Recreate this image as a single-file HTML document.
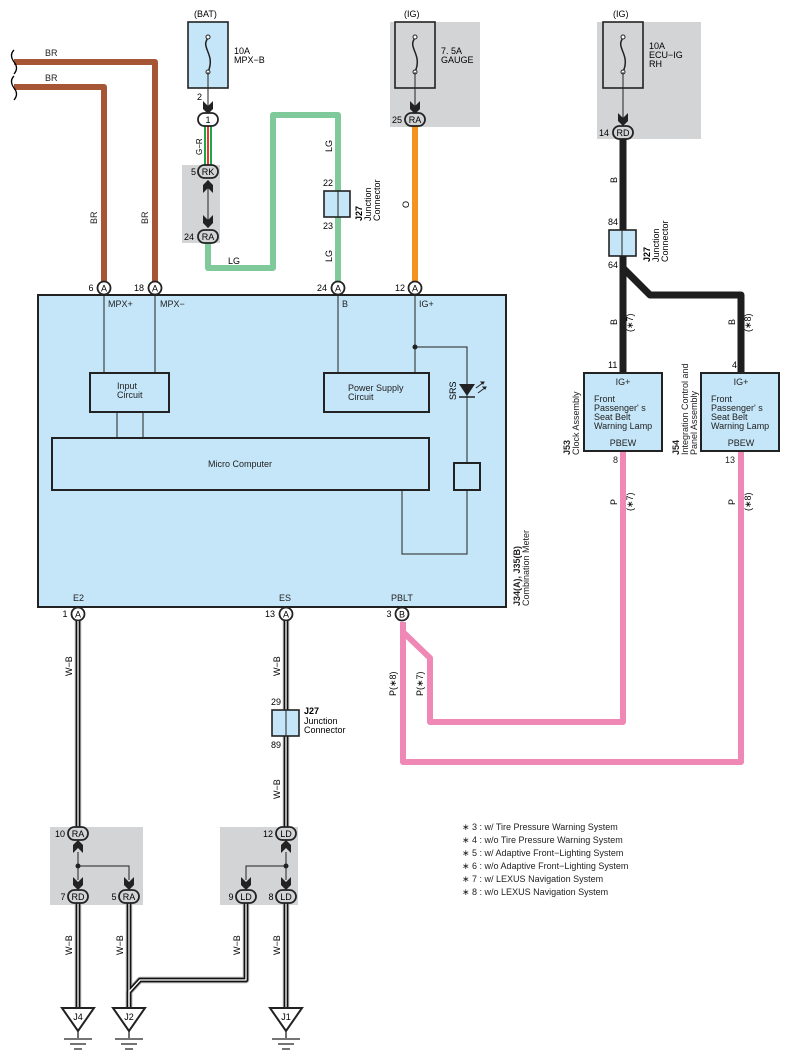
<!DOCTYPE html>
<html><head><meta charset="utf-8"><style>
html,body{margin:0;padding:0;background:#fff}
svg{display:block;font-family:"Liberation Sans",sans-serif}
</style></head><body>
<svg width="790" height="1062" viewBox="0 0 790 1062" xmlns="http://www.w3.org/2000/svg">
<defs>
<g id="ad"><path d="M-5,-13 L0,-8 L5,-13 L5,-5 L0,0 L-5,-5 Z" fill="#222"/></g>
<g id="au"><path d="M-5,13 L0,8 L5,13 L5,5 L0,0 L-5,5 Z" fill="#222"/></g>
</defs>
<!-- gray areas -->
<rect x="390" y="22" width="90" height="105" fill="#d3d4d6"/>
<rect x="597" y="22" width="104" height="117" fill="#d3d4d6"/>
<rect x="182" y="165" width="38" height="78" fill="#d3d4d6"/>
<rect x="50" y="827" width="93" height="78" fill="#d3d4d6"/>
<rect x="220" y="827" width="78" height="78" fill="#d3d4d6"/>

<!-- brown wires -->
<g fill="none" stroke="#a65535" stroke-width="6" stroke-linejoin="round">
<path d="M14,62 H155 V282"/>
<path d="M14,87 H104 V282"/>
</g>
<path d="M14,50 q-5,5 0,12 q5,6 0,12" fill="none" stroke="#000" stroke-width="1.3"/>
<path d="M14,76 q-5,5 0,12 q5,6 0,12" fill="none" stroke="#000" stroke-width="1.3"/>
<g font-size="9" fill="#222">
<text x="45" y="56">BR</text><text x="45" y="81">BR</text>
<text transform="translate(97,224) rotate(-90)">BR</text>
<text transform="translate(148,224) rotate(-90)">BR</text>
</g>

<!-- BAT fuse -->
<text x="194" y="17" font-size="9">(BAT)</text>
<rect x="188" y="22" width="40" height="66" fill="#c5e6f8" stroke="#222" stroke-width="1.6"/>
<path d="M208,38 c-8,10 8,16 0,34" fill="none" stroke="#222" stroke-width="1.5"/>
<circle cx="208" cy="37" r="2" fill="#fff" stroke="#222"/><circle cx="208" cy="72" r="2" fill="#fff" stroke="#222"/>
<line x1="208" y1="72" x2="208" y2="112" stroke="#222"/>
<use href="#ad" x="208" y="114"/>
<text x="234" y="54" font-size="9">10A</text><text x="234" y="63" font-size="9">MPX−B</text>
<text x="197" y="100" font-size="9">2</text>
<!-- G-R -->
<line x1="205" y1="125" x2="205" y2="166" stroke="#1aa84a" stroke-width="2"/>
<line x1="208" y1="125" x2="208" y2="166" stroke="#e33" stroke-width="2"/>
<line x1="211" y1="125" x2="211" y2="166" stroke="#1aa84a" stroke-width="2"/>
<text transform="translate(202,155) rotate(-90)" font-size="8">G−R</text>
<rect x="198" y="113" width="20" height="13" rx="6.5" fill="#fff" stroke="#222" stroke-width="1.8"/>
<text x="208" y="123" font-size="9" text-anchor="middle">1</text>
<line x1="208" y1="180" x2="208" y2="228" stroke="#222"/>
<use href="#au" x="208" y="180"/><use href="#ad" x="208" y="228"/>
<!-- LG wire -->
<path d="M208,240 V268 H273 V115 H338 V282" fill="none" stroke="#80c99b" stroke-width="6" stroke-linejoin="round"/>
<rect x="198" y="165" width="20" height="13" rx="6.5" fill="#d3d4d6" stroke="#222" stroke-width="1.8"/>
<text x="208" y="175" font-size="9" text-anchor="middle">RK</text>
<text x="191" y="175" font-size="9">5</text>
<rect x="198" y="230" width="20" height="13" rx="6.5" fill="#d3d4d6" stroke="#222" stroke-width="1.8"/>
<text x="208" y="240" font-size="9" text-anchor="middle">RA</text>
<text x="184" y="240" font-size="9">24</text>
<text x="228" y="264" font-size="9">LG</text>
<text transform="translate(332,152) rotate(-90)" font-size="9">LG</text>
<text transform="translate(332,262) rotate(-90)" font-size="9">LG</text>
<rect x="324" y="191" width="26" height="26" fill="#c5e6f8" stroke="#222" stroke-width="1.6"/>
<line x1="338" y1="191" x2="338" y2="217" stroke="#222"/>
<text x="323" y="186" font-size="9">22</text><text x="323" y="229" font-size="9">23</text>
<text transform="translate(362,221) rotate(-90)" font-size="9" font-weight="bold">J27</text>
<text transform="translate(371,221) rotate(-90)" font-size="9">Junction</text>
<text transform="translate(380,221) rotate(-90)" font-size="9">Connector</text>

<!-- IG gauge -->
<text x="404" y="17" font-size="9">(IG)</text>
<rect x="395" y="22" width="40" height="66" fill="#d3d4d6" stroke="#222" stroke-width="1.6"/>
<path d="M415,38 c-8,10 8,16 0,34" fill="none" stroke="#222" stroke-width="1.5"/>
<circle cx="415" cy="37" r="2" fill="#fff" stroke="#222"/><circle cx="415" cy="72" r="2" fill="#fff" stroke="#222"/>
<line x1="415" y1="72" x2="415" y2="112" stroke="#222"/>
<use href="#ad" x="415" y="114"/>
<text x="441" y="54" font-size="9">7. 5A</text><text x="441" y="63" font-size="9">GAUGE</text>
<line x1="415" y1="126" x2="415" y2="282" stroke="#f5921e" stroke-width="6"/>
<rect x="405" y="113" width="20" height="13" rx="6.5" fill="#d3d4d6" stroke="#222" stroke-width="1.8"/>
<text x="415" y="123" font-size="9" text-anchor="middle">RA</text>
<text x="392" y="123" font-size="9">25</text>
<text transform="translate(409,208) rotate(-90)" font-size="9">O</text>

<!-- IG ECU -->
<text x="613" y="17" font-size="9">(IG)</text>
<rect x="603" y="22" width="40" height="66" fill="#d3d4d6" stroke="#222" stroke-width="1.6"/>
<path d="M623,38 c-8,10 8,16 0,34" fill="none" stroke="#222" stroke-width="1.5"/>
<circle cx="623" cy="37" r="2" fill="#fff" stroke="#222"/><circle cx="623" cy="72" r="2" fill="#fff" stroke="#222"/>
<line x1="623" y1="72" x2="623" y2="124" stroke="#222"/>
<use href="#ad" x="623" y="126"/>
<text x="649" y="49" font-size="9">10A</text><text x="649" y="58" font-size="9">ECU−IG</text><text x="649" y="67" font-size="9">RH</text>
<path d="M623,138 V372 M623,268 L650,295 H741 V372" fill="none" stroke="#1e1e1e" stroke-width="7" stroke-linejoin="round"/>
<rect x="613" y="126" width="20" height="13" rx="6.5" fill="#d3d4d6" stroke="#222" stroke-width="1.8"/>
<text x="623" y="136" font-size="9" text-anchor="middle">RD</text>
<text x="599" y="136" font-size="9">14</text>
<text transform="translate(617,183) rotate(-90)" font-size="9">B</text>
<rect x="609" y="230" width="27" height="26" fill="#c5e6f8" stroke="#222" stroke-width="1.6"/>
<line x1="622" y1="230" x2="622" y2="256" stroke="#222"/>
<text x="608" y="225" font-size="9">84</text><text x="608" y="268" font-size="9">64</text>
<text transform="translate(650,262) rotate(-90)" font-size="9" font-weight="bold">J27</text>
<text transform="translate(659,262) rotate(-90)" font-size="9">Junction</text>
<text transform="translate(668,262) rotate(-90)" font-size="9">Connector</text>
<text transform="translate(617,325) rotate(-90)" font-size="9">B</text>
<text transform="translate(633,332) rotate(-90)" font-size="9">(∗7)</text>
<text transform="translate(735,325) rotate(-90)" font-size="9">B</text>
<text transform="translate(751,332) rotate(-90)" font-size="9">(∗8)</text>
<text x="608" y="368" font-size="9">11</text><text x="732" y="368" font-size="9">4</text>

<!-- pink wires -->
<g fill="none" stroke="#f088b6" stroke-width="6" stroke-linejoin="round">
<path d="M623,452 V722 H430 V658 L403,632"/>
<path d="M741,452 V762 H403 V622"/>
</g>
<text transform="translate(617,505) rotate(-90)" font-size="9">P</text>
<text transform="translate(633,511) rotate(-90)" font-size="9">(∗7)</text>
<text transform="translate(735,505) rotate(-90)" font-size="9">P</text>
<text transform="translate(751,511) rotate(-90)" font-size="9">(∗8)</text>
<text transform="translate(396,696) rotate(-90)" font-size="9">P(∗8)</text>
<text transform="translate(423,696) rotate(-90)" font-size="9">P(∗7)</text>

<!-- J53/J54 -->
<rect x="584" y="373" width="78" height="78" fill="#c5e6f8" stroke="#222" stroke-width="2"/>
<rect x="701" y="373" width="78" height="78" fill="#c5e6f8" stroke="#222" stroke-width="2"/>
<g font-size="9" fill="#222">
<text x="623" y="385" text-anchor="middle">IG+</text>
<text x="594" y="402">Front</text><text x="594" y="411">Passenger' s</text><text x="594" y="420">Seat Belt</text><text x="594" y="429">Warning Lamp</text>
<text x="623" y="446" text-anchor="middle">PBEW</text>
<text x="741" y="385" text-anchor="middle">IG+</text>
<text x="711" y="402">Front</text><text x="711" y="411">Passenger' s</text><text x="711" y="420">Seat Belt</text><text x="711" y="429">Warning Lamp</text>
<text x="741" y="446" text-anchor="middle">PBEW</text>
<text x="613" y="463">8</text><text x="725" y="463">13</text>
<text transform="translate(570,455) rotate(-90)" font-weight="bold">J53</text>
<text transform="translate(579,455) rotate(-90)">Clock Assembly</text>
<text transform="translate(679,455) rotate(-90)" font-weight="bold">J54</text>
<text transform="translate(688,455) rotate(-90)">Integration Control and</text>
<text transform="translate(697,455) rotate(-90)">Panel Assembly</text>
</g>

<!-- main meter -->
<rect x="38" y="295" width="468" height="312" fill="#c5e6f8" stroke="#222" stroke-width="2"/>
<g stroke="#222" fill="none" stroke-width="1">
<line x1="104" y1="295" x2="104" y2="373"/><line x1="155" y1="295" x2="155" y2="373"/>
<line x1="338" y1="295" x2="338" y2="373"/><line x1="415" y1="295" x2="415" y2="373"/>
<path d="M415,347 H467 V463"/>
<line x1="117" y1="412" x2="117" y2="438"/><line x1="143" y1="412" x2="143" y2="438"/>
<path d="M402,490 V554 H467 V490"/>
</g>
<circle cx="415" cy="347" r="2.5" fill="#222"/>
<path d="M459,384 H475 L467,396 Z" fill="#222"/><line x1="459" y1="397" x2="475" y2="397" stroke="#222" stroke-width="1.5"/>
<path d="M476,388 L484,382 M478,393 L486,387" stroke="#222" stroke-width="1"/>
<path d="M484,382 l-3,0 l2,2z M486,387 l-3,0 l2,2z" fill="#222" stroke="#222"/>
<text transform="translate(456,400) rotate(-90)" font-size="9">SRS</text>
<rect x="90" y="373" width="79" height="39" fill="#c5e6f8" stroke="#222" stroke-width="2"/>
<rect x="324" y="373" width="105" height="39" fill="#c5e6f8" stroke="#222" stroke-width="2"/>
<rect x="52" y="438" width="377" height="52" fill="#c5e6f8" stroke="#222" stroke-width="2"/>
<rect x="454" y="463" width="26" height="27" fill="#c5e6f8" stroke="#222" stroke-width="2"/>
<g font-size="9" fill="#222">
<text x="117" y="389">Input</text><text x="117" y="398">Circuit</text>
<text x="348" y="391">Power Supply</text><text x="348" y="400">Circuit</text>
<text x="240" y="467" text-anchor="middle">Micro Computer</text>
<text x="108" y="307">MPX+</text><text x="160" y="307">MPX−</text>
<text x="342" y="307">B</text><text x="419" y="307">IG+</text>
<text x="73" y="601">E2</text><text x="279" y="601">ES</text><text x="391" y="601">PBLT</text>
<text transform="translate(520,606) rotate(-90)" font-weight="bold">J34(A), J35(B)</text>
<text transform="translate(529,606) rotate(-90)">Combination Meter</text>
</g>
<!-- top/bottom connector circles -->
<g font-size="9" text-anchor="middle">
<circle cx="104" cy="288" r="6.5" fill="#fff" stroke="#222" stroke-width="1.8"/><text x="104" y="291.5">A</text>
<circle cx="155" cy="288" r="6.5" fill="#fff" stroke="#222" stroke-width="1.8"/><text x="155" y="291.5">A</text>
<circle cx="338" cy="288" r="6.5" fill="#fff" stroke="#222" stroke-width="1.8"/><text x="338" y="291.5">A</text>
<circle cx="415" cy="288" r="6.5" fill="#fff" stroke="#222" stroke-width="1.8"/><text x="415" y="291.5">A</text>
<text x="91" y="291">6</text><text x="139" y="291">18</text><text x="322" y="291">24</text><text x="400" y="291">12</text>
<circle cx="78" cy="614" r="6.5" fill="#fff" stroke="#222" stroke-width="1.8"/><text x="78" y="617.5">A</text>
<circle cx="286" cy="614" r="6.5" fill="#fff" stroke="#222" stroke-width="1.8"/><text x="286" y="617.5">A</text>
<circle cx="402" cy="614" r="6.5" fill="#fff" stroke="#222" stroke-width="1.8"/><text x="402" y="617.5">B</text>
<text x="65" y="617">1</text><text x="270" y="617">13</text><text x="389" y="617">3</text>
</g>

<!-- W-B wires -->
<g fill="none" stroke-linejoin="round">
<g stroke="#aaa" stroke-width="6.5">
<path d="M78,621 V828"/><path d="M286,621 V828"/>
<path d="M78,903 V1010"/><path d="M286,903 V1010"/>
<path d="M246,903 V980 H140 L129,992 V1010"/><path d="M129,903 V1010"/>
</g>
<g stroke="#111" stroke-width="4.5">
<path d="M78,621 V828"/><path d="M286,621 V828"/>
<path d="M78,903 V1010"/><path d="M286,903 V1010"/>
<path d="M246,903 V980 H140 L129,992 V1010"/><path d="M129,903 V1010"/>
</g>
<g stroke="#fff" stroke-width="1.3">
<path d="M78,621 V828"/><path d="M286,621 V828"/>
<path d="M78,903 V1010"/><path d="M286,903 V1010"/>
<path d="M246,903 V980 H140 L129,992 V1010"/><path d="M129,903 V1010"/>
</g>
</g>
<g font-size="9">
<text transform="translate(72,676) rotate(-90)">W−B</text>
<text transform="translate(280,676) rotate(-90)">W−B</text>
<text transform="translate(280,799) rotate(-90)">W−B</text>
<text transform="translate(72,955) rotate(-90)">W−B</text>
<text transform="translate(123,955) rotate(-90)">W−B</text>
<text transform="translate(240,955) rotate(-90)">W−B</text>
<text transform="translate(280,955) rotate(-90)">W−B</text>
</g>
<rect x="272" y="710" width="27" height="26" fill="#c5e6f8" stroke="#222" stroke-width="1.6"/>
<line x1="286" y1="710" x2="286" y2="736" stroke="#222"/>
<text x="271" y="705" font-size="9">29</text><text x="271" y="748" font-size="9">89</text>
<text x="304" y="714" font-size="9" font-weight="bold">J27</text>
<text x="304" y="724" font-size="9">Junction</text><text x="304" y="733" font-size="9">Connector</text>

<!-- bottom splices -->
<g stroke="#222" fill="none">
<path d="M78,852 V880 M78,866 H129 V880"/>
<path d="M286,852 V880 M286,866 H246 V880"/>
</g>
<circle cx="78" cy="866" r="2.5" fill="#222"/><circle cx="286" cy="866" r="2.5" fill="#222"/>
<use href="#au" x="78" y="840"/><use href="#ad" x="78" y="890"/><use href="#ad" x="129" y="890"/>
<use href="#au" x="286" y="840"/><use href="#ad" x="286" y="890"/><use href="#ad" x="246" y="890"/>
<g font-size="9" text-anchor="middle">
<rect x="68" y="827" width="20" height="13" rx="6.5" fill="#d3d4d6" stroke="#222" stroke-width="1.8"/><text x="78" y="837">RA</text>
<rect x="68" y="890" width="20" height="13" rx="6.5" fill="#d3d4d6" stroke="#222" stroke-width="1.8"/><text x="78" y="900">RD</text>
<rect x="119" y="890" width="20" height="13" rx="6.5" fill="#d3d4d6" stroke="#222" stroke-width="1.8"/><text x="129" y="900">RA</text>
<rect x="276" y="827" width="20" height="13" rx="6.5" fill="#d3d4d6" stroke="#222" stroke-width="1.8"/><text x="286" y="837">LD</text>
<rect x="236" y="890" width="20" height="13" rx="6.5" fill="#d3d4d6" stroke="#222" stroke-width="1.8"/><text x="246" y="900">LD</text>
<rect x="276" y="890" width="20" height="13" rx="6.5" fill="#d3d4d6" stroke="#222" stroke-width="1.8"/><text x="286" y="900">LD</text>
<text x="60" y="837">10</text><text x="63" y="900">7</text><text x="114" y="900">5</text>
<text x="268" y="837">12</text><text x="231" y="900">9</text><text x="271" y="900">8</text>
</g>
<!-- grounds -->
<g stroke="#222" stroke-width="2" fill="#fff">
<path d="M62,1008 H94 L78,1031 Z"/><path d="M113,1008 H145 L129,1031 Z"/><path d="M270,1008 H302 L286,1031 Z"/>
</g>
<g stroke="#222" stroke-width="1.3">
<path d="M78,1031 V1038 M64,1039 H92 M70,1044 H86 M74,1049 H82"/>
<path d="M129,1031 V1038 M115,1039 H143 M121,1044 H137 M125,1049 H133"/>
<path d="M286,1031 V1038 M272,1039 H300 M278,1044 H294 M282,1049 H290"/>
</g>
<g font-size="9" text-anchor="middle"><text x="78" y="1020">J4</text><text x="129" y="1020">J2</text><text x="286" y="1020">J1</text></g>

<!-- legend -->
<g font-size="9" fill="#222">
<text x="462" y="830">∗ 3 : w/ Tire Pressure Warning System</text>
<text x="462" y="843">∗ 4 : w/o Tire Pressure Warning System</text>
<text x="462" y="856">∗ 5 : w/ Adaptive Front−Lighting System</text>
<text x="462" y="869">∗ 6 : w/o Adaptive Front−Lighting System</text>
<text x="462" y="882">∗ 7 : w/ LEXUS Navigation System</text>
<text x="462" y="895">∗ 8 : w/o LEXUS Navigation System</text>
</g>
</svg>
</body></html>
